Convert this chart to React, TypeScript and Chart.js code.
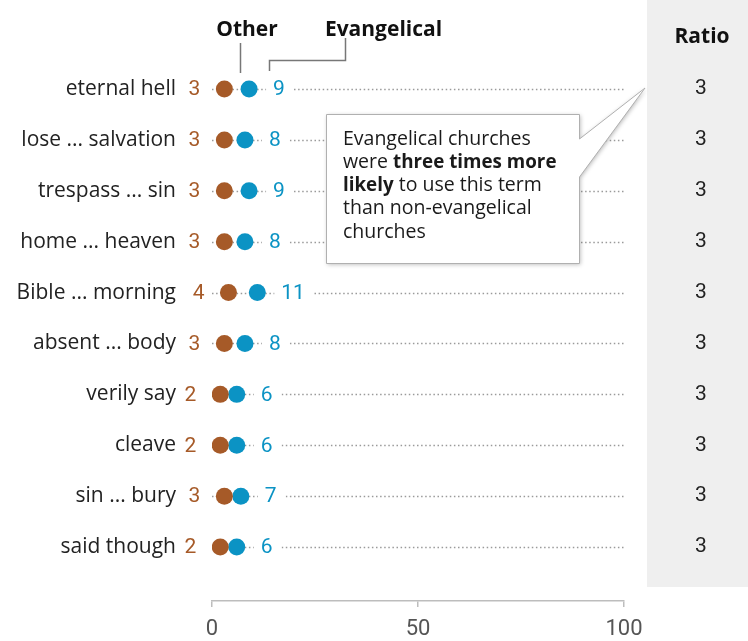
import React, { useEffect, useRef } from "react";
import { Chart, registerables } from "chart.js";

Chart.register(...registerables);

const categories = [
  "eternal hell",
  "lose ... salvation",
  "trespass ... sin",
  "home ... heaven",
  "Bible ... morning",
  "absent ... body",
  "verily say",
  "cleave",
  "sin ... bury",
  "said though",
];
const otherValues = [3, 3, 3, 3, 4, 3, 2, 2, 3, 2];
const evangelicalValues = [9, 8, 9, 8, 11, 8, 6, 6, 7, 6];
const ratioValues = [3, 3, 3, 3, 3, 3, 3, 3, 3, 3];
const xTickValues = [0, 50, 100];
const seriesNames = ["Other", "Evangelical"];
const ratioTitle = "Ratio";
const calloutLines: { text: string; bold: boolean }[][] = [
  [{ text: "Evangelical churches", bold: false }],
  [
    { text: "were ", bold: false },
    { text: "three times more", bold: true },
  ],
  [
    { text: "likely", bold: true },
    { text: " to use this term", bold: false },
  ],
  [{ text: "than non-evangelical", bold: false }],
  [{ text: "churches", bold: false }],
];

const BROWN = "#a65a28";
const BLUE = "#0b93c4";
const FONT = "Roboto, 'Liberation Sans', sans-serif";
const FONT2 = "'Open Sans', Roboto, sans-serif";

export default function App() {
  const ref = useRef<HTMLCanvasElement | null>(null);

  useEffect(() => {
    document.body.style.margin = "0";
    const canvas = ref.current;
    if (!canvas) return;

    const decor = {
      id: "decor",
      beforeDraw(chart: any) {
        const ctx = chart.ctx;
        ctx.save();
        ctx.fillStyle = "#efefef";
        ctx.fillRect(647, 0, 748 - 647, 587);
        ctx.restore();
      },
      beforeDatasetsDraw(chart: any) {
        const ctx = chart.ctx;
        const xs = chart.scales.x;
        const ys = chart.scales.y;
        ctx.save();
        ctx.strokeStyle = "#9a9a9a";
        ctx.lineWidth = 1.5;
        ctx.setLineDash([1.5, 2.6]);
        categories.forEach((_, i) => {
          const y = Math.round(ys.getPixelForValue(i)) + 0.5;
          ctx.beginPath();
          ctx.moveTo(xs.getPixelForValue(0), y);
          ctx.lineTo(xs.getPixelForValue(100), y);
          ctx.stroke();
        });
        ctx.restore();
      },
      afterDatasetsDraw(chart: any) {
        const ctx = chart.ctx;
        const xs = chart.scales.x;
        const ys = chart.scales.y;
        ctx.save();
        ctx.textBaseline = "middle";
        categories.forEach((_, i) => {
          const y = ys.getPixelForValue(i);
          const xo = xs.getPixelForValue(otherValues[i]);
          const xe = xs.getPixelForValue(evangelicalValues[i]);
          ctx.font = `21px ${FONT}`;
          const to = String(otherValues[i]);
          const wo = ctx.measureText(to).width;
          ctx.fillStyle = "#fff";
          ctx.fillRect(xo - 24 - wo - 4, y - 11, wo + 8, 22);
          ctx.fillStyle = BROWN;
          ctx.textAlign = "right";
          ctx.fillText(to, xo - 24, y + 1);
          const te = String(evangelicalValues[i]);
          const we = ctx.measureText(te).width;
          ctx.fillStyle = "#fff";
          ctx.fillRect(xe + 17, y - 11, we + 16, 22);
          ctx.fillStyle = BLUE;
          ctx.textAlign = "left";
          ctx.fillText(te, xe + 24, y + 1);
          ctx.fillStyle = "#222";
          ctx.textAlign = "center";
          ctx.fillText(String(ratioValues[i]), 701, y);
        });
        ctx.font = `bold 21px ${FONT2}`;
        ctx.fillStyle = "#111";
        ctx.textAlign = "center";
        ctx.fillText(ratioTitle, 702, 37);
        ctx.fillText(seriesNames[0], 247, 30);
        ctx.fillText(seriesNames[1], 383.5, 30);
        ctx.strokeStyle = "#777";
        ctx.lineWidth = 1.5;
        ctx.beginPath();
        ctx.moveTo(240.5, 43);
        ctx.lineTo(240.5, 73);
        ctx.moveTo(345.5, 38);
        ctx.lineTo(345.5, 60.5);
        ctx.lineTo(269.5, 60.5);
        ctx.lineTo(269.5, 71);
        ctx.stroke();
        ctx.restore();
      },
      afterDraw(chart: any) {
        const ctx = chart.ctx;
        ctx.save();
        ctx.beginPath();
        ctx.moveTo(326.5, 114.5);
        ctx.lineTo(579.5, 114.5);
        ctx.lineTo(579.5, 139);
        ctx.lineTo(645, 88);
        ctx.lineTo(579.5, 177);
        ctx.lineTo(579.5, 263.5);
        ctx.lineTo(326.5, 263.5);
        ctx.closePath();
        ctx.shadowColor = "rgba(0,0,0,0.28)";
        ctx.shadowBlur = 4;
        ctx.shadowOffsetX = 1;
        ctx.shadowOffsetY = 1;
        ctx.fillStyle = "#fff";
        ctx.fill();
        ctx.shadowColor = "transparent";
        ctx.strokeStyle = "#b0b0b0";
        ctx.lineWidth = 1;
        ctx.stroke();
        ctx.textBaseline = "middle";
        ctx.textAlign = "left";
        ctx.fillStyle = "#1a1a1a";
        calloutLines.forEach((line, li) => {
          let x = 343;
          const y = 139 + li * 23.3;
          line.forEach((seg) => {
            ctx.font = seg.bold ? `bold 18.8px ${FONT2}` : `19.5px ${FONT2}`;
            ctx.fillText(seg.text, x, y);
            x += ctx.measureText(seg.text).width;
          });
        });
        ctx.restore();
      },
    };

    const chart = new Chart(canvas, {
      type: "scatter",
      data: {
        datasets: [
          {
            label: seriesNames[0],
            data: otherValues.map((v, i) => ({ x: v, y: i })),
            backgroundColor: BROWN,
            borderColor: BROWN,
            pointRadius: 8.5,
            pointBorderWidth: 0,
          },
          {
            label: seriesNames[1],
            data: evangelicalValues.map((v, i) => ({ x: v, y: i })),
            backgroundColor: BLUE,
            borderColor: BLUE,
            pointRadius: 8.5,
            pointBorderWidth: 0,
          },
        ],
      },
      options: {
        animation: false,
        responsive: false,
        maintainAspectRatio: false,
        layout: { padding: { top: 60, right: 124, left: 0, bottom: 0 } },
        plugins: {
          legend: { display: false },
          tooltip: { enabled: false },
        },
        scales: {
          x: {
            type: "linear",
            min: 0,
            max: 100,
            afterBuildTicks: (axis: any) => {
              axis.ticks = xTickValues.map((v) => ({ value: v }));
            },
            afterFit: (axis: any) => {
              axis.height = 40;
            },
            grid: {
              drawOnChartArea: false,
              drawTicks: true,
              tickLength: 6,
              color: "#bdbdbd",
              lineWidth: 1.5,
            },
            border: { display: true, color: "#bdbdbd", width: 1.5 },
            ticks: {
              font: { family: FONT, size: 22 },
              color: "#555",
              padding: 9,
              maxRotation: 0,
            },
          },
          y: {
            type: "linear",
            reverse: true,
            min: -0.57,
            max: 10.06,
            afterBuildTicks: (axis: any) => {
              axis.ticks = categories.map((_, i) => ({ value: i }));
            },
            afterFit: (axis: any) => {
              axis.width = 212;
              axis.paddingTop = 0;
              axis.paddingBottom = 0;
            },
            grid: { display: false, drawTicks: false },
            border: { display: false },
            ticks: {
              font: { family: FONT2, size: 21 },
              color: "#222",
              padding: 36,
              callback: (v: any) => categories[v as number] ?? "",
            },
          },
        },
      },
      plugins: [decor],
    });

    return () => chart.destroy();
  }, []);

  return <canvas ref={ref} width={748} height={641} style={{ display: "block" }} />;
}
